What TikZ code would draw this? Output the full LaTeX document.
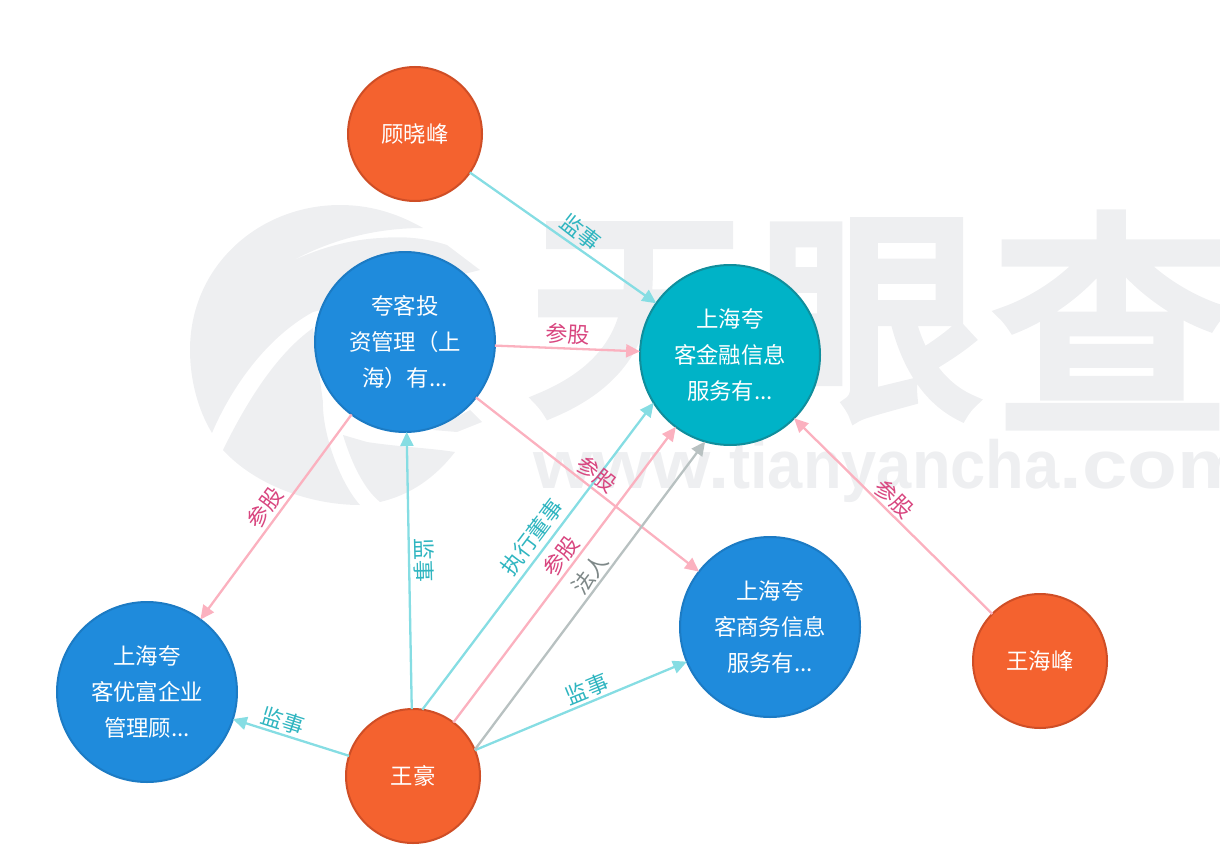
\documentclass[tikz,border=0pt]{standalone}
\usepackage{fontspec}
\usepackage{graphicx}
\usetikzlibrary{arrows.meta}
\setmainfont{Liberation Sans}
\newfontfamily\cjk{Noto Sans CJK SC}
\newfontfamily\cjkfat[FakeBold=5]{Noto Sans CJK SC}
\newfontfamily\wmlatin{Liberation Sans Bold}
\definecolor{wm}{HTML}{EEEFF1}
\definecolor{orangefill}{HTML}{F4622F}
\definecolor{orangeline}{HTML}{CF4E26}
\definecolor{bluefill}{HTML}{1F8BDC}
\definecolor{blueline}{HTML}{1C7BC4}
\definecolor{tealfill}{HTML}{00B3C7}
\definecolor{tealline}{HTML}{108E9C}
\definecolor{cyanedge}{HTML}{86DDE3}
\definecolor{pinkedge}{HTML}{FBB1BF}
\definecolor{grayedge}{HTML}{B8C1C1}
\definecolor{cyantext}{HTML}{2FB5C0}
\definecolor{pinktext}{HTML}{D8467F}
\definecolor{graytext}{HTML}{7E8888}
\tikzset{
  x=1pt,y=-1pt,
  ent/.style={circle,inner sep=0pt,outer sep=0pt,line width=2pt,align=center,text=white,
    font=\cjk\fontsize{22.4}{36}\selectfont},
  person/.style={ent,draw=orangeline,fill=orangefill,minimum size=134pt},
  company/.style={ent,draw=blueline,fill=bluefill,minimum size=180pt},
  focus/.style={ent,draw=tealline,fill=tealfill,minimum size=180pt},
  link/.style={line width=2.3pt,-{Triangle[length=14pt,width=13pt]}},
  cy/.style={link,draw=cyanedge},
  pk/.style={link,draw=pinkedge},
  gy/.style={link,draw=grayedge},
  lbl/.style={inner sep=0pt,font=\cjk\fontsize{22}{24}\selectfont},
  lcy/.style={lbl,text=cyantext},
  lpk/.style={lbl,text=pinktext},
  lgy/.style={lbl,text=graytext},
  wmglyph/.style={inner sep=0pt,text=wm,font=\cjkfat\fontsize{222}{222}\selectfont},
}
\begin{document}
\begin{tikzpicture}
\useasboundingbox (0,0) rectangle (1220,867);
\begin{scope}
\clip (0,0) rectangle (1220,867);
% watermark logo
\fill[wm] (423,228) .. controls (395,212) and (368,205) .. (340,205)
  .. controls (260,205) and (190,265) .. (190,350)
  .. controls (190,380) and (198,410) .. (212,433)
  .. controls (228,395) and (262,340) .. (313,312)
  -- (480,270) -- (447,245) .. controls (425,238) and (405,236) .. (380,238)
  .. controls (345,240) and (315,250) .. (290,262)
  .. controls (330,240) and (375,228) .. (423,228) -- cycle;
\fill[wm] (223,450) .. controls (245,405) and (275,355) .. (313,328)
  -- (323,402) .. controls (322,430) and (338,480) .. (360,505)
  .. controls (310,505) and (255,485) .. (223,450) -- cycle;
\fill[wm] (343,435) -- (367,442) .. controls (400,447) and (430,448) .. (455,452)
  .. controls (435,478) and (410,495) .. (380,502)
  .. controls (365,490) and (352,465) .. (343,435) -- cycle;
\fill[wm] (433,430) -- (457,432) -- (482,422) -- (470,410) -- cycle;
% watermark text
\node[wmglyph] (wmt) at (640,320) {天};
\node[wmglyph] (wmy) at (870,320) {眼};
\node[wmglyph,font=\cjkfat\fontsize{236}{236}\selectfont] (wmc) at (1112,320) {查};
\node[inner sep=0pt,anchor=base west,text=wm,font=\wmlatin\fontsize{68}{70}\selectfont] (wmu) at (533,488)
  {\scalebox{1.12}[1]{www.}\scalebox{0.93}[1]{tianyancha}\scalebox{1.2}[1]{.com}};
\end{scope}
% nodes
\node[person] (gu) at (415,134) {顾晓峰};
\node[company] (kk) at (405,342) {夸客投\\资管理（上\\海）有...};
\node[focus] (jr) at (730,355) {上海夸\\客金融信息\\服务有...};
\node[company] (sw) at (770,627) {上海夸\\客商务信息\\服务有...};
\node[company] (yf) at (147,692) {上海夸\\客优富企业\\管理顾...};
\node[person] (wh) at (413,776) {王豪};
\node[person] (hf) at (1040,661) {王海峰};
% connectors
\draw[cy] (gu) -- (jr);
\draw[pk] (kk) -- (jr);
\draw[pk] (kk) -- (sw);
\draw[pk] (kk) -- (yf);
\draw[cy] (wh) -- (kk);
\draw[cy] (wh) -- (yf);
\draw[cy] (wh) -- (sw);
\draw[cy] (wh.82.3) -- (jr.212.1);
\draw[pk] (wh.53) -- (jr.233.7);
\draw[gy] (wh.23.6) -- (jr.254.9);
\draw[pk] (hf) -- (jr);
% labels
\node[lcy,rotate=-38] (l1) at (581,232) {监事};
\node[lpk,rotate=-2.5] (l2) at (568,334) {参股};
\node[lpk,rotate=-38] (l3) at (597,474) {参股};
\node[lpk,rotate=53.6] (l4) at (265,508) {参股};
\node[lcy,rotate=-88.7] (l5) at (424,560) {监事};
\node[lcy,rotate=53] (l6) at (532,537) {执行董事};
\node[lpk,rotate=53] (l7) at (561,556) {参股};
\node[lgy,rotate=53] (l8) at (590,574) {法人};
\node[lcy,rotate=22.4] (l9) at (587,689) {监事};
\node[lcy,rotate=-17.7] (l10) at (283,721) {监事};
\node[lpk,rotate=-45] (l11) at (894,499) {参股};
\end{tikzpicture}
\end{document}
